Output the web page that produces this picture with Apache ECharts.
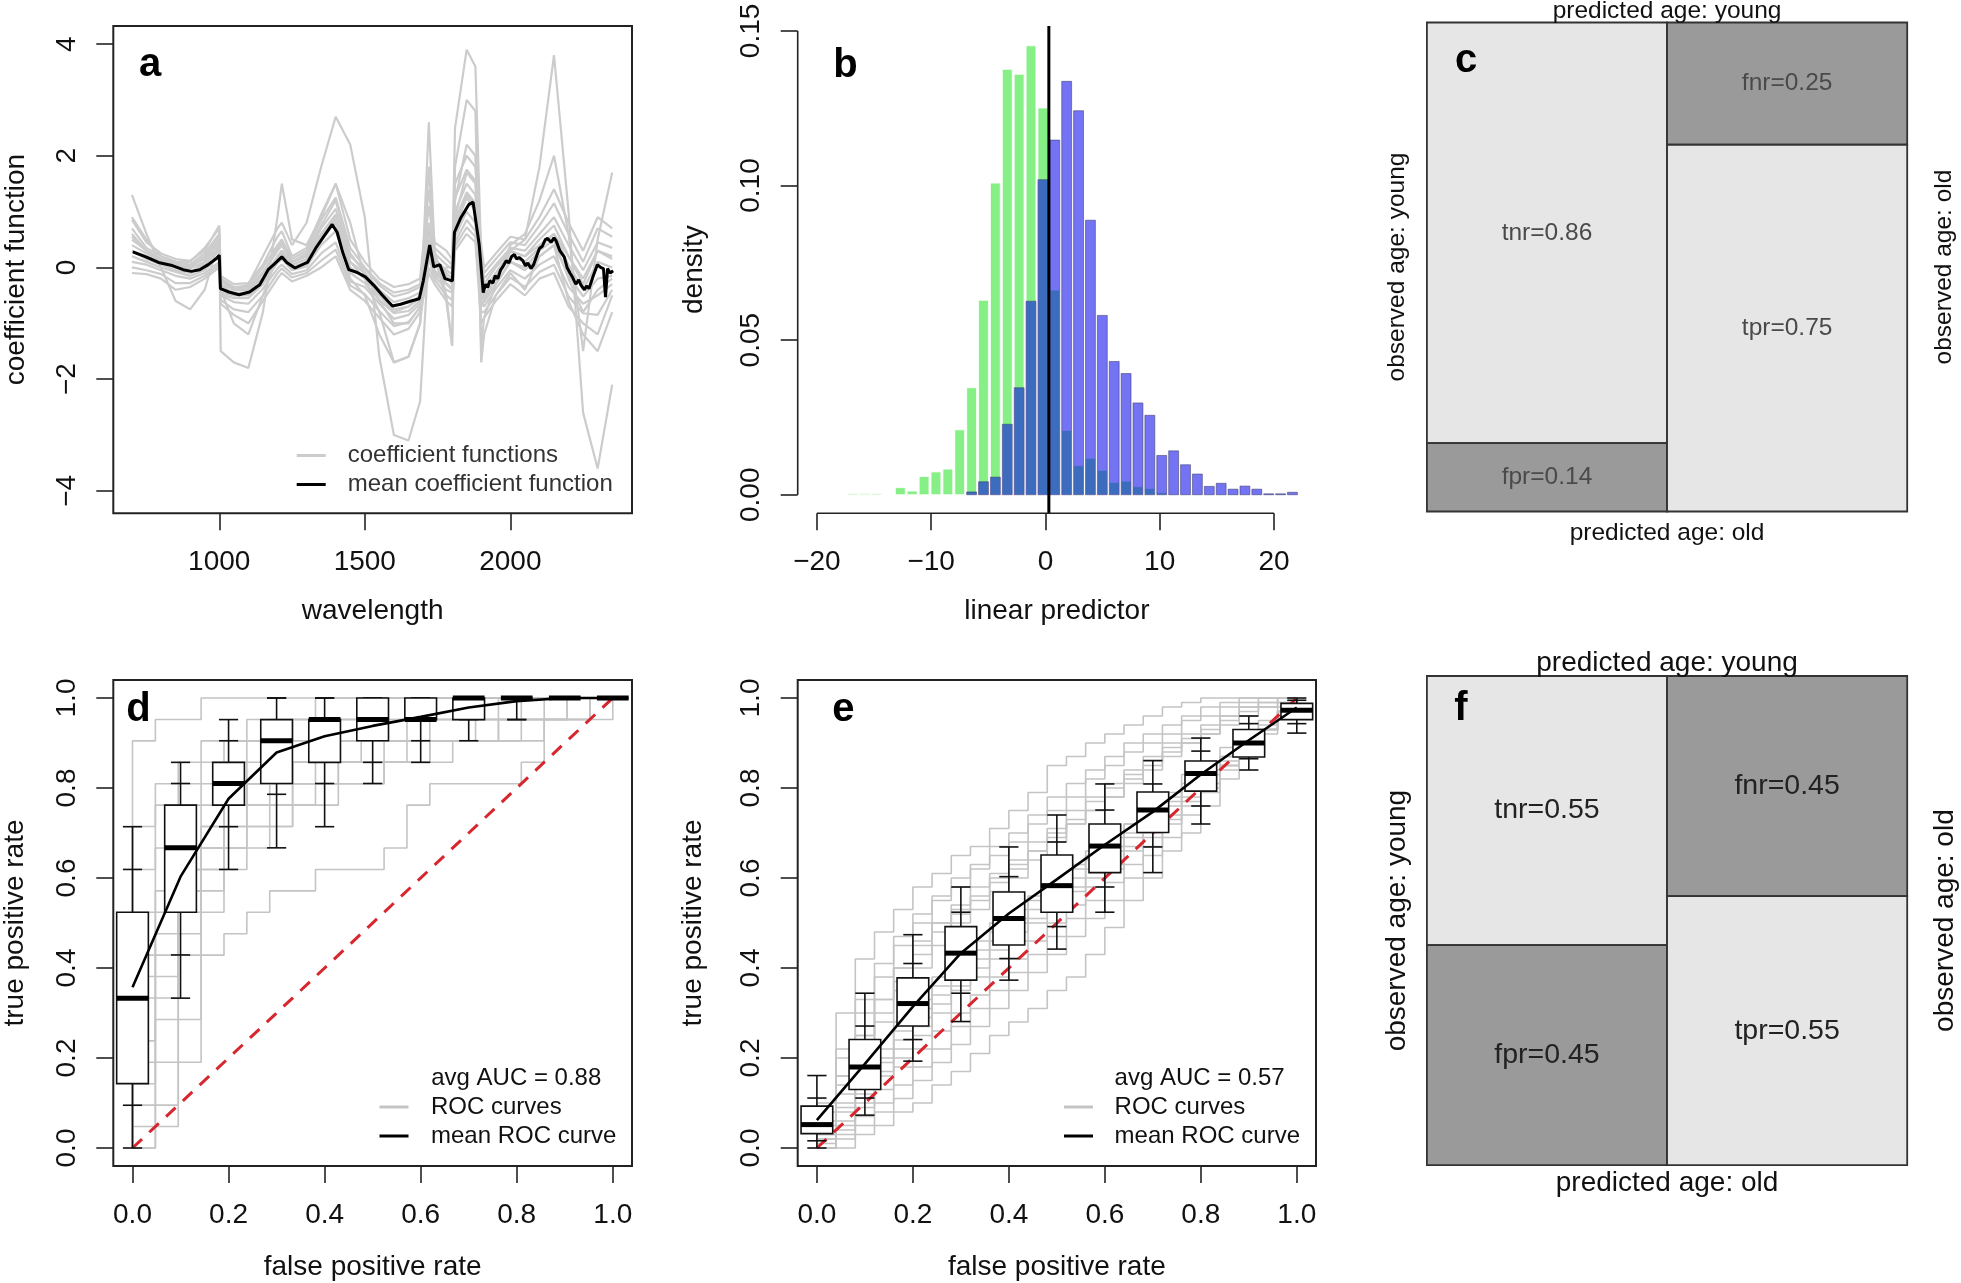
<!DOCTYPE html>
<html>
<head>
<meta charset="utf-8">
<script src="https://cdn.jsdelivr.net/npm/echarts@6.0.0/dist/echarts.min.js"></script>
<style>
html,body{margin:0;padding:0;background:#ffffff;}
#chart{width:1961px;height:1283px;}
</style>
</head>
<body>
<div id="chart"></div>
<script>
// ================= DATA =================
// ---- (a) coefficient functions ----
const wlMean = [703,748,791,834,876,905,933,962,990,1000,1004,1033,1068,1104,1139,1168,1189,1215,1232,1260,1303,1331,1360,1388,1405,1424,1445,1474,1502,1531,1559,1595,1623,1659,1687,1701,1723,1737,1758,1775,1801,1808,1829,1858,1872,1893,1907,1915,1922,1929,1940,1948,1957,1966,1975,1986,1995,2005,2014,2022,2030,2043,2052,2060,2071,2080,2090,2100,2110,2120,2128,2140,2150,2157,2170,2185,2195,2205,2213,2225,2235,2242,2255,2262,2270,2285,2299,2310,2320,2327,2334,2343,2353];
const coefMean = [0.28,0.19,0.09,0.04,-0.04,-0.07,-0.04,0.05,0.16,0.22,-0.38,-0.44,-0.49,-0.44,-0.31,-0.04,0.06,0.19,0.09,-0.01,0.09,0.34,0.56,0.77,0.63,0.27,-0.04,-0.09,-0.17,-0.32,-0.49,-0.69,-0.66,-0.6,-0.56,-0.24,0.4,0.01,0.05,-0.2,-0.24,0.63,0.88,1.13,1.17,0.41,-0.45,-0.3,-0.36,-0.24,-0.28,-0.15,-0.2,-0.05,0.02,0.12,0.08,0.2,0.23,0.15,0.18,0.12,0.03,0.08,-0.02,0.05,0.2,0.34,0.38,0.5,0.52,0.45,0.53,0.48,0.3,0.19,0.0,-0.1,-0.17,-0.3,-0.22,-0.31,-0.4,-0.33,-0.38,-0.15,0.05,0.0,-0.02,-0.53,-0.02,-0.1,-0.06];
const wlGrid = [700,750,800,850,900,950,1000,1005,1050,1100,1150,1200,1215,1250,1300,1350,1400,1450,1500,1550,1600,1650,1690,1720,1740,1780,1800,1810,1850,1880,1900,1910,1950,2000,2050,2100,2150,2200,2250,2300,2350];
const coefCurve1 = [0.85,0.45,0.25,0.15,0.12,0.3,0.75,-0.15,-0.3,-0.28,0.05,0.55,0.65,0.2,0.35,0.95,1.5,0.5,0.1,-0.2,-0.35,-0.3,-0.2,1.4,0.45,0.3,0.15,1.5,2.0,1.8,0.4,0.0,0.25,0.55,0.5,0.9,1.4,0.8,0.3,0.9,0.7];
const coefCurve2 = [-0.1,-0.12,-0.2,-0.4,-0.35,-0.2,0.0,-0.65,-0.85,-1.0,-0.6,-0.2,-0.1,-0.25,-0.15,0.0,0.2,-0.4,-0.6,-0.9,-1.2,-1.1,-0.8,-0.1,-0.3,-0.6,-0.7,0.3,0.6,0.45,-1.0,-0.9,-0.6,-0.3,-0.5,-0.2,-0.1,-0.7,-1.0,-1.2,-0.5];
const coefCurve3 = [0.5,0.3,0.15,0.08,0.03,0.15,0.45,-0.25,-0.38,-0.36,-0.08,0.3,0.4,0.1,0.2,0.7,1.05,0.2,-0.03,-0.32,-0.52,-0.45,-0.35,0.8,0.25,0.05,-0.02,1.0,1.5,1.3,0.05,-0.2,0.05,0.35,0.3,0.6,0.9,0.4,-0.05,0.45,0.35];
const coefCurve4 = [0.1,0.05,-0.05,-0.15,-0.2,-0.1,0.1,-0.5,-0.62,-0.65,-0.38,-0.02,0.05,-0.12,-0.05,0.25,0.45,-0.25,-0.35,-0.65,-0.92,-0.85,-0.65,0.15,-0.15,-0.4,-0.45,0.45,0.85,0.65,-0.6,-0.7,-0.38,-0.05,-0.2,0.05,0.2,-0.35,-0.65,-0.5,-0.3];
const coefCurve5 = [0.9,0.5,0.2,0.1,0.1,0.35,0.7,-0.2,-0.4,-0.3,0.2,0.7,0.8,0.4,0.8,1.8,2.7,2.2,0.9,-1.6,-3.0,-3.1,-2.4,0.3,-0.2,0.0,0.0,2.5,3.9,3.6,0.2,-0.3,0.0,0.3,0.2,0.4,0.6,0.2,-0.3,0.3,0.2];
const coefCurve6 = [0.6,0.3,0.1,0.0,0.0,0.2,0.5,-0.3,-0.4,-0.4,-0.1,0.3,0.4,0.1,0.2,0.6,0.9,0.1,-0.2,-0.5,-0.8,-0.7,-0.5,0.5,0.1,-0.1,-0.2,0.8,1.3,1.1,-0.4,-0.5,-0.2,0.3,0.5,1.8,3.8,1.0,-2.6,-3.6,-2.1];
const coefCurve7 = [1.3,0.6,0.0,-0.6,-0.75,-0.4,0.5,-1.5,-1.7,-1.8,-0.8,0.9,1.5,0.5,0.4,0.9,1.5,0.8,-0.2,-0.8,-1.7,-1.6,-1.0,2.6,0.3,-0.5,-1.4,1.8,3.0,2.8,-1.7,-1.2,-0.5,-0.1,-0.4,0.2,0.4,-0.6,-1.2,-1.5,-0.8];
const coefCurve8 = [0.3,0.2,0.1,0.0,-0.1,0.05,0.3,-0.45,-0.5,-0.5,-0.25,0.15,0.25,0.0,0.1,0.55,0.85,0.0,-0.2,-0.5,-0.75,-0.7,-0.55,0.5,0.05,-0.15,-0.3,0.7,1.25,1.0,-0.35,-0.55,-0.2,0.2,0.1,0.35,0.6,0.05,-0.4,0.1,0.0];
const coefCurve9 = [0.7,0.35,0.2,0.1,0.05,0.25,0.6,-0.2,-0.35,-0.33,0.0,0.4,0.5,0.15,0.3,0.85,1.25,0.35,0.0,-0.28,-0.45,-0.4,-0.3,1.1,0.35,0.15,0.05,1.25,1.75,1.55,0.2,-0.1,0.15,0.45,0.4,0.75,1.15,0.6,0.1,0.7,0.55];
const coefCurve10 = [0.0,-0.05,-0.12,-0.28,-0.28,-0.15,0.05,-0.58,-0.75,-0.8,-0.5,-0.1,-0.02,-0.18,-0.1,0.12,0.32,-0.32,-0.48,-0.78,-1.05,-0.98,-0.72,0.0,-0.22,-0.5,-0.58,0.38,0.72,0.55,-0.8,-0.8,-0.5,-0.18,-0.35,-0.08,0.05,-0.52,-0.82,-0.85,-0.4];
const coefCurve11 = [0.4,0.25,0.12,0.05,-0.02,0.1,0.35,-0.35,-0.45,-0.45,-0.18,0.2,0.3,0.05,0.15,0.6,0.95,0.1,-0.1,-0.4,-0.62,-0.55,-0.45,0.65,0.15,-0.05,-0.12,0.85,1.35,1.15,-0.15,-0.38,-0.1,0.28,0.2,0.5,0.75,0.2,-0.2,0.3,0.15];
const coefCurve12 = [0.2,0.1,0.0,-0.08,-0.15,-0.05,0.2,-0.48,-0.55,-0.55,-0.3,0.08,0.15,-0.05,0.02,0.4,0.65,-0.1,-0.28,-0.58,-0.82,-0.78,-0.6,0.3,-0.05,-0.28,-0.38,0.55,1.0,0.8,-0.48,-0.62,-0.3,0.1,-0.05,0.2,0.4,-0.15,-0.52,-0.2,-0.15];
const coefCurve13 = [0.55,0.3,0.15,0.05,0.0,0.2,0.55,-0.3,-0.5,-0.45,-0.1,0.35,0.45,0.1,0.25,0.75,1.2,0.25,-0.1,-0.6,-1.0,-1.0,-0.7,1.8,0.2,-0.6,-1.4,1.2,2.2,2.0,-1.4,-0.9,-0.3,0.4,0.6,1.2,2.0,0.6,-1.5,0.5,1.7];
const coefCurve14 = [0.3,0.15,0.05,-0.05,-0.1,0.1,0.45,-0.4,-1.0,-1.2,-0.5,0.2,0.3,0.0,0.1,0.5,0.8,-0.2,-0.5,-1.2,-1.7,-1.6,-1.0,0.3,-0.1,-0.3,-0.4,0.9,1.7,1.5,-0.7,-0.6,-0.3,0.1,0.0,0.3,0.5,-0.2,-0.8,-0.4,-0.2];
const aXTicks = [1000,1500,2000];
const aYTicks = [-4,-2,0,2,4];

// ---- (b) histogram of linear predictor ----
const histEdges = [-18.42,-17.38,-16.34,-15.30,-14.26,-13.22,-12.18,-11.14,-10.10,-9.06,-8.02,-6.98,-5.94,-4.90,-3.86,-2.82,-1.78,-0.74,0.30,1.34,2.38,3.42,4.46,5.50,6.54,7.58,8.62,9.66,10.70,11.74,12.78,13.82,14.86,15.90,16.94,17.98,19.02,20.06,21.10,22.14];
const densYoung = [0,0.0004,0.0004,0.0004,0,0.0023,0.0012,0.0059,0.0074,0.0083,0.0210,0.0346,0.0629,0.1008,0.1376,0.1360,0.1452,0.1251,0.0662,0.0208,0.0094,0.0118,0.0079,0.0040,0.0044,0.0026,0.0020,0.0007,0,0,0,0,0,0,0,0,0,0,0];
const densOld = [0,0,0,0,0,0,0,0,0,0,0,0.0009,0.0042,0.0057,0.0228,0.0346,0.0626,0.1019,0.1147,0.1337,0.1242,0.0888,0.0580,0.0431,0.0392,0.0297,0.0257,0.0127,0.0142,0.0097,0.0067,0.0027,0.0037,0.0018,0.0028,0.0018,0.0003,0.0003,0.0008];
const cutoff = [0.3];
const bXTicks = [-20,-10,0,10,20];
const bYTicks = [0,0.05,0.10,0.15];

// ---- (c),(f) confusion mosaics ----
const cellNames = ['tnr','fpr','fnr','tpr'];
const ratesC = [0.86,0.14,0.25,0.75];
const ratesF = [0.55,0.45,0.45,0.55];
const colSplitC = [0.5];
const colSplitF = [0.5];

// ---- (d) ROC, 21 negatives / 21 positives ----
const fprCountsD = [0,1,2,3,4,5,6,7,8,9,10,11,12,13,14,15,16,17,18,19,20,21];
const rocD1 = [19,20,20,21,21,21,21,21,21,21,21,21,21,21,21,21,21,21,21,21,21,21];
const rocD2 = [0,1,4,9,10,11,12,12,13,13,13,14,16,17,17,17,17,18,20,20,20,21];
const rocD3 = [7,11,13,15,16,17,18,18,19,19,19,20,20,20,20,20,21,21,21,21,21,21];
const rocD4 = [3,8,12,15,17,18,19,19,19,20,20,20,20,21,21,21,21,21,21,21,21,21];
const rocD5 = [11,14,16,17,18,19,19,20,20,20,20,21,21,21,21,21,21,21,21,21,21,21];
const rocD6 = [5,9,12,13,14,15,15,16,16,17,17,18,18,18,19,19,19,20,20,21,21,21];
const rocD7 = [1,4,10,14,16,17,17,18,18,18,19,19,19,20,20,20,20,20,21,21,21,21];
const rocD8 = [15,17,18,19,19,20,20,20,21,21,21,21,21,21,21,21,21,21,21,21,21,21];
const rocD9 = [9,12,14,16,16,17,17,18,18,18,18,19,19,19,19,19,19,19,20,20,21,21];
const rocD10 = [0,2,6,11,13,14,15,16,17,17,17,18,18,19,19,20,20,20,20,20,21,21];
const rocD11 = [13,16,17,18,19,19,20,20,20,20,21,21,21,21,21,21,21,21,21,21,21,21];
const rocD12 = [2,6,9,12,14,15,16,17,17,18,18,18,19,19,19,19,20,20,20,21,21,21];
const rocD13 = [8,10,13,14,15,16,17,17,17,18,18,18,18,19,19,19,20,20,20,20,21,21];
const rocD14 = [4,7,11,13,15,16,16,17,18,19,19,19,20,20,20,20,20,21,21,21,21,21];
const boxX = [0,0.1,0.2,0.3,0.4,0.5,0.6,0.7,0.8,0.9,1.0];
const boxMinD = [0.0,0.333,0.619,0.667,0.714,0.810,0.857,0.905,0.952,1,1];
const boxLoD  = [0.095,0.429,0.714,0.786,0.810,0.857,0.905,0.952,0.952,1,1];
const boxQ1D  = [0.143,0.524,0.762,0.810,0.857,0.905,0.952,0.952,1,1,1];
const boxMedD = [0.333,0.667,0.810,0.905,0.952,0.952,0.952,1,1,1,1];
const boxQ3D  = [0.524,0.762,0.857,0.952,0.952,1,1,1,1,1,1];
const boxHiD  = [0.619,0.810,0.905,1,1,1,1,1,1,1,1];
const boxMaxD = [0.714,0.857,0.952,1,1,1,1,1,1,1,1];
const meanRocD = [0.357,0.603,0.776,0.879,0.915,0.938,0.958,0.979,0.993,1.0,1.0];

// ---- (e) ROC ----
const fprGridE = [0,0.04,0.08,0.12,0.16,0.2,0.24,0.28,0.32,0.36,0.4,0.44,0.48,0.52,0.56,0.6,0.64,0.68,0.72,0.76,0.8,0.84,0.88,0.92,0.96,1.0];
const rocE1 = [0.1,0.3,0.42,0.48,0.53,0.58,0.61,0.65,0.67,0.71,0.75,0.79,0.85,0.87,0.9,0.92,0.94,0.96,0.98,0.99,1,1,1,1,1,1];
const rocE2 = [0.05,0.2,0.3,0.38,0.45,0.5,0.55,0.58,0.62,0.65,0.68,0.72,0.75,0.78,0.82,0.85,0.88,0.9,0.92,0.95,0.96,0.98,0.99,1,1,1];
const rocE3 = [0.03,0.12,0.2,0.28,0.35,0.4,0.45,0.5,0.53,0.57,0.6,0.64,0.68,0.72,0.75,0.78,0.82,0.85,0.88,0.9,0.92,0.95,0.97,0.98,0.99,1];
const rocE4 = [0.02,0.1,0.16,0.22,0.28,0.33,0.38,0.42,0.46,0.5,0.53,0.56,0.6,0.63,0.66,0.7,0.72,0.75,0.78,0.81,0.84,0.87,0.9,0.93,0.96,1];
const rocE5 = [0,0.06,0.1,0.16,0.2,0.25,0.3,0.35,0.38,0.42,0.46,0.5,0.53,0.57,0.6,0.63,0.67,0.7,0.74,0.78,0.81,0.85,0.88,0.92,0.96,1];
const rocE6 = [0,0.03,0.07,0.1,0.14,0.18,0.22,0.27,0.31,0.35,0.39,0.43,0.47,0.51,0.55,0.59,0.63,0.67,0.72,0.76,0.8,0.85,0.89,0.93,0.97,1];
const rocE7 = [0,0,0.03,0.05,0.08,0.1,0.14,0.17,0.21,0.25,0.28,0.31,0.35,0.38,0.43,0.49,0.55,0.6,0.66,0.7,0.76,0.82,0.87,0.93,0.97,1];
const rocE8 = [0.06,0.16,0.25,0.33,0.4,0.46,0.5,0.53,0.56,0.6,0.63,0.66,0.69,0.72,0.75,0.78,0.81,0.84,0.87,0.9,0.92,0.94,0.96,0.98,0.99,1];
const rocE9 = [0.04,0.16,0.25,0.33,0.4,0.45,0.5,0.54,0.58,0.61,0.64,0.68,0.71,0.75,0.78,0.81,0.84,0.87,0.9,0.92,0.94,0.96,0.98,0.99,1,1];
const rocE10 = [0.01,0.08,0.14,0.19,0.24,0.29,0.34,0.38,0.42,0.46,0.5,0.53,0.57,0.6,0.64,0.67,0.7,0.74,0.77,0.8,0.83,0.86,0.9,0.93,0.97,1];
const rocE11 = [0,0.04,0.09,0.13,0.18,0.22,0.26,0.3,0.34,0.38,0.42,0.46,0.5,0.54,0.58,0.62,0.66,0.69,0.73,0.77,0.81,0.85,0.89,0.93,0.97,1];
const rocE12 = [0.03,0.14,0.22,0.3,0.37,0.43,0.48,0.52,0.55,0.59,0.62,0.66,0.7,0.73,0.77,0.8,0.83,0.86,0.89,0.91,0.93,0.96,0.98,0.99,1,1];
const rocE13 = [0,0.02,0.05,0.08,0.11,0.15,0.19,0.23,0.27,0.31,0.35,0.39,0.43,0.47,0.51,0.55,0.6,0.65,0.69,0.74,0.79,0.84,0.88,0.93,0.97,1];
const rocE14 = [0.02,0.09,0.15,0.2,0.26,0.31,0.36,0.4,0.44,0.48,0.51,0.55,0.58,0.62,0.65,0.69,0.72,0.76,0.79,0.83,0.86,0.89,0.92,0.95,0.98,1];
const rocE15 = [0.08,0.22,0.33,0.41,0.47,0.52,0.56,0.6,0.63,0.67,0.7,0.74,0.78,0.81,0.84,0.87,0.9,0.92,0.94,0.96,0.98,0.99,1,1,1,1];
const rocE16 = [0,0.05,0.12,0.17,0.22,0.27,0.32,0.36,0.4,0.44,0.48,0.51,0.55,0.58,0.62,0.66,0.69,0.73,0.76,0.8,0.84,0.87,0.91,0.94,0.97,1];
const boxMinE = [0.0,0.073,0.193,0.281,0.373,0.442,0.524,0.612,0.72,0.84,0.922];
const boxLoE  = [0.016,0.111,0.241,0.344,0.421,0.492,0.58,0.669,0.76,0.865,0.943];
const boxQ1E  = [0.032,0.130,0.271,0.373,0.451,0.524,0.612,0.701,0.793,0.869,0.952];
const boxMedE = [0.052,0.180,0.321,0.433,0.51,0.583,0.671,0.751,0.832,0.9,0.973];
const boxQ3E  = [0.093,0.241,0.378,0.492,0.569,0.651,0.72,0.791,0.86,0.93,0.988];
const boxHiE  = [0.111,0.271,0.41,0.524,0.603,0.68,0.751,0.809,0.882,0.943,0.995];
const boxMaxE = [0.161,0.344,0.474,0.58,0.669,0.74,0.809,0.861,0.911,0.96,1.0];
const meanRocE = [0.062,0.187,0.314,0.433,0.521,0.597,0.674,0.747,0.83,0.906,0.979];
const rocTicks = [0,0.2,0.4,0.6,0.8,1.0];
const aucLabels = ['avg AUC = 0.88','avg AUC = 0.57'];

// ================= LAYOUT / STYLE =================
const FONT = '"Liberation Sans", Arial, Helvetica, sans-serif';
const TXT = '#111';
const aX = [636, 2418], aY = [-4.403, 4.324];
const bX = [-21.68, 23.68], bY = [-0.006, 0.1516];
const rX = [-0.04, 1.04];
const minusFmt = v => (v < 0 ? '\u2212' + Math.abs(v) : String(v));

const chart = echarts.init(document.getElementById('chart'), null, {renderer: 'canvas'});

function grid(left, top, width, height, box) {
  return {left, top, width, height, show: !!box, borderColor: '#222', borderWidth: 2,
          backgroundColor: 'transparent', containLabel: false, outerBoundsMode: 'none'};
}
function valAxis(o) {
  return {
    type: 'value', gridIndex: o.grid, min: o.range[0], max: o.range[1], z: o.z || 0,
    position: o.position, splitLine: {show: false},
    axisLine: {show: false, onZero: false},
    axisTick: o.ticks ? {show: true, inside: false, length: 17, customValues: o.ticks,
                         lineStyle: {color: '#222', width: 1.6}} : {show: false},
    axisLabel: o.ticks ? {show: true, customValues: o.ticks, formatter: o.fmt, margin: o.margin,
                          rotate: o.rotate || 0, fontSize: 28, color: TXT, fontFamily: FONT} : {show: false},
    name: o.name, nameLocation: 'middle', nameGap: o.nameGap, nameMoveOverlap: false,
    nameTextStyle: {fontSize: o.nameSize || 28, color: TXT, fontFamily: FONT}
  };
}

const xAxes = [
  valAxis({grid:0, range:aX, position:'bottom', ticks:aXTicks, fmt:minusFmt, margin:35, name:'wavelength', nameGap:83.5}),
  valAxis({grid:1, range:bX, position:'bottom', ticks:bXTicks, fmt:minusFmt, margin:35, name:'linear predictor', nameGap:83.5}),
  valAxis({grid:2, range:[0,1], position:'bottom', name:'predicted age: old', nameGap:9.5, nameSize:24.5, z:10}),
  valAxis({grid:2, range:[0,1], position:'top', name:'predicted age: young', nameGap:-1, nameSize:24.5, z:10}),
  valAxis({grid:3, range:rX, position:'bottom', ticks:rocTicks, fmt:v=>v.toFixed(1), margin:35, name:'false positive rate', nameGap:87.5}),
  valAxis({grid:4, range:rX, position:'bottom', ticks:rocTicks, fmt:v=>v.toFixed(1), margin:35, name:'false positive rate', nameGap:87.5}),
  valAxis({grid:5, range:[0,1], position:'bottom', name:'predicted age: old', nameGap:4, nameSize:28, z:10}),
  valAxis({grid:5, range:[0,1], position:'top', name:'predicted age: young', nameGap:-1, nameSize:28, z:10})
];
const yAxes = [
  valAxis({grid:0, range:aY, position:'left', ticks:aYTicks, fmt:minusFmt, margin:32, rotate:90, name:'coefficient function', nameGap:83}),
  valAxis({grid:1, range:bY, position:'left', ticks:bYTicks, fmt:v=>v.toFixed(2), margin:32, rotate:90, name:'density', nameGap:89}),
  valAxis({grid:2, range:[0,1], position:'left', name:'observed age: young', nameGap:17, nameSize:24.5, z:10}),
  valAxis({grid:2, range:[0,1], position:'right', name:'observed age: old', nameGap:25, nameSize:24.5, z:10}),
  valAxis({grid:3, range:rX, position:'left', ticks:rocTicks, fmt:v=>v.toFixed(1), margin:32, rotate:90, name:'true positive rate', nameGap:84}),
  valAxis({grid:4, range:rX, position:'left', ticks:rocTicks, fmt:v=>v.toFixed(1), margin:32, rotate:90, name:'true positive rate', nameGap:90}),
  valAxis({grid:5, range:[0,1], position:'left', name:'observed age: young', nameGap:16, nameSize:28, z:10}),
  valAxis({grid:5, range:[0,1], position:'right', name:'observed age: old', nameGap:24, nameSize:28, z:10})
];

const series = [];
const base = {silent: true, animation: false};

// ---- (a) ----
[coefCurve1,coefCurve2,coefCurve3,coefCurve4,coefCurve5,coefCurve6,coefCurve7,
 coefCurve8,coefCurve9,coefCurve10,coefCurve11,coefCurve12,coefCurve13,coefCurve14].forEach(cv => {
  series.push(Object.assign({type:'line', name:'coefficient functions', xAxisIndex:0, yAxisIndex:0,
    data: wlGrid.map((w, j) => [w, cv[j]]), symbol:'none', showSymbol:false, color:'#cccccc',
    lineStyle:{color:'#cccccc', width:2.2}, z:2, clip:true}, base));
});
series.push(Object.assign({type:'line', name:'mean coefficient function', xAxisIndex:0, yAxisIndex:0,
  data: wlMean.map((w, i) => [w, coefMean[i]]), symbol:'none', showSymbol:false, color:'#000',
  lineStyle:{color:'#000', width:3}, z:3}, base));

// ---- (b) ----
function histSeries(dens, fill, stroke, z) {
  return Object.assign({type:'custom', xAxisIndex:1, yAxisIndex:1, z,
    data: dens.map((d, i) => [histEdges[i], histEdges[i+1], d]).filter(r => r[2] > 0),
    renderItem: (params, api) => {
      const p0 = api.coord([api.value(0), 0]);
      const p1 = api.coord([api.value(1), api.value(2)]);
      return {type:'rect', shape:{x:p0[0]+1, y:p1[1], width:p1[0]-p0[0]-2, height:Math.max(p0[1]-p1[1], 0.9)},
              style:{fill, stroke, lineWidth:1}};
    }}, base);
}
series.push(histSeries(densYoung, '#86f086', 'rgba(255,255,255,0.8)', 2));
series.push(histSeries(densOld, 'rgba(0,0,235,0.55)', 'rgba(60,60,110,0.55)', 3));
series.push(Object.assign({type:'line', xAxisIndex:1, yAxisIndex:1, data:[[cutoff[0], bY[0]],[cutoff[0], bY[1]]],
  symbol:'none', lineStyle:{color:'#000', width:3}, z:4, clip:false}, base));
series.push(Object.assign({type:'line', xAxisIndex:1, yAxisIndex:1,
  data:[[bXTicks[0], bY[0]],[bXTicks[bXTicks.length-1], bY[0]]], symbol:'none', lineStyle:{color:'#222', width:1.6}, z:4, clip:false}, base));
series.push(Object.assign({type:'line', xAxisIndex:1, yAxisIndex:1,
  data:[[bX[0], bYTicks[0]],[bX[0], bYTicks[bYTicks.length-1]]], symbol:'none', lineStyle:{color:'#222', width:1.6}, z:4, clip:false}, base));

// ---- (c),(f) mosaics ----
function mosaicSeries(rates, split, xi, yi, fontSize, textColor) {
  const cells = [
    [0, split, rates[1], 1, 0],
    [0, split, 0, rates[1], 1],
    [split, 1, rates[3], 1, 1],
    [split, 1, 0, rates[3], 0]
  ];
  return Object.assign({type:'custom', xAxisIndex:xi, yAxisIndex:yi, z:2, data: cells,
    renderItem: (params, api) => {
      const p0 = api.coord([api.value(0), api.value(3)]);
      const p1 = api.coord([api.value(1), api.value(2)]);
      const i = params.dataIndex;
      return {type:'group', children:[
        {type:'rect', shape:{x:p0[0], y:p0[1], width:p1[0]-p0[0], height:p1[1]-p0[1]},
         style:{fill: api.value(4) ? '#9a9a9a' : '#e6e6e6', stroke:'#333', lineWidth:1.8}},
        {type:'text', x:(p0[0]+p1[0])/2, y:(p0[1]+p1[1])/2,
         style:{text: cellNames[i] + '=' + rates[i].toFixed(2), fontSize, fontFamily:FONT, fill:textColor,
                textAlign:'center', textVerticalAlign:'middle', verticalAlign:'middle'}}
      ]};
    }}, base);
}
series.push(mosaicSeries(ratesC, colSplitC[0], 2, 2, 24.5, '#4a4a4a'));
series.push(mosaicSeries(ratesF, colSplitF[0], 6, 6, 28.5, '#222'));

// ---- (d),(e) ROC ----
function stepLine(points, xi, yi, name) {
  return Object.assign({type:'line', name, xAxisIndex:xi, yAxisIndex:yi, data: points, step:'end',
    symbol:'none', showSymbol:false, color:'#c4c4c4', lineStyle:{color:'#c4c4c4', width:1.6}, z:2}, base);
}
[rocD1,rocD2,rocD3,rocD4,rocD5,rocD6,rocD7,rocD8,rocD9,rocD10,rocD11,rocD12,rocD13,rocD14].forEach(cv => {
  const pts = [[0,0]].concat(fprCountsD.map((k, j) => [k/21, cv[j]/21]));
  series.push(stepLine(pts, 4, 4, 'ROC curves'));
});
[rocE1,rocE2,rocE3,rocE4,rocE5,rocE6,rocE7,rocE8,rocE9,rocE10,rocE11,rocE12,rocE13,rocE14,rocE15,rocE16].forEach(cv => {
  const pts = [[0,0]].concat(fprGridE.map((x, j) => [x, cv[j]]));
  series.push(stepLine(pts, 5, 5, 'ROC curves'));
});
function chance(xi, yi) {
  return Object.assign({type:'line', xAxisIndex:xi, yAxisIndex:yi, data:[[0,0],[1,1]], symbol:'none',
    lineStyle:{color:'#d8262f', width:3, type:[13,10]}, z:3}, base);
}
series.push(chance(4,4));
series.push(chance(5,5));
function boxSeries(mn, lo, q1, md, q3, hi, mx, xi, yi) {
  return Object.assign({type:'custom', xAxisIndex:xi, yAxisIndex:yi, z:4,
    data: boxX.map((x, i) => [x, mn[i], lo[i], q1[i], md[i], q3[i], hi[i], mx[i]]),
    renderItem: (params, api) => {
      const x = api.value(0);
      const px = api.coord([x, 0])[0];
      const y = v => api.coord([x, v])[1];
      const hw = api.size([0.033, 0])[0];
      const sw = api.size([0.02, 0])[0];
      const st = {stroke:'#111', lineWidth:1.6};
      const ch = [{type:'line', shape:{x1:px, y1:y(api.value(1)), x2:px, y2:y(api.value(7))}, style:st}];
      [1,2,6,7].forEach(k => ch.push({type:'line', shape:{x1:px-sw, y1:y(api.value(k)), x2:px+sw, y2:y(api.value(k))}, style:st}));
      ch.push({type:'rect', shape:{x:px-hw, y:y(api.value(5)), width:2*hw, height:y(api.value(3))-y(api.value(5))},
               style:{fill:'#fff', stroke:'#111', lineWidth:1.6}});
      ch.push({type:'line', shape:{x1:px-hw, y1:y(api.value(4)), x2:px+hw, y2:y(api.value(4))}, style:{stroke:'#000', lineWidth:5}});
      return {type:'group', children: ch};
    }}, base);
}
series.push(boxSeries(boxMinD, boxLoD, boxQ1D, boxMedD, boxQ3D, boxHiD, boxMaxD, 4, 4));
series.push(boxSeries(boxMinE, boxLoE, boxQ1E, boxMedE, boxQ3E, boxHiE, boxMaxE, 5, 5));
series.push(Object.assign({type:'line', name:'mean ROC curve', xAxisIndex:4, yAxisIndex:4,
  data: boxX.map((x, i) => [x, meanRocD[i]]), symbol:'none', showSymbol:false, color:'#000',
  lineStyle:{color:'#000', width:2.6}, z:5}, base));
series.push(Object.assign({type:'line', name:'mean ROC curve', xAxisIndex:5, yAxisIndex:5,
  data: boxX.map((x, i) => [x, meanRocE[i]]), symbol:'none', showSymbol:false, color:'#000',
  lineStyle:{color:'#000', width:2.6}, z:5}, base));

function legend(left, top, names, padLeft, color) {
  return {left, top, orient:'vertical', padding:0, itemGap:5, itemWidth:29, itemHeight:3, icon:'rect',
    selectedMode:false, data:names, textStyle:{fontSize:24, color, fontFamily:FONT, padding:[0,0,0,padLeft]}};
}
function letter(t, x, y) {
  return {type:'text', x, y, z:100, silent:true, style:{text:t, fontSize:40, fontWeight:'bold', fontFamily:FONT, fill:'#000',
    textAlign:'center', textVerticalAlign:'middle', verticalAlign:'middle'}};
}
function note(t, x, y) {
  return {type:'text', x, y, z:100, silent:true, style:{text:t, fontSize:24, fontFamily:FONT, fill:TXT,
    textAlign:'left', textVerticalAlign:'middle', verticalAlign:'middle'}};
}

chart.setOption({
  animation: false,
  backgroundColor: '#ffffff',
  grid: [
    grid(113.3, 26, 518.7, 487.3, true),
    grid(797.7, 26, 518.3, 487.3, false),
    grid(1426.9, 22.5, 480.3, 489, false),
    grid(113.3, 680, 518.7, 486, true),
    grid(797.7, 680, 518.3, 486, true),
    grid(1426.9, 676, 480.3, 489.2, false)
  ],
  xAxis: xAxes,
  yAxis: yAxes,
  legend: [
    legend(296.7, 443.5, ['coefficient functions','mean coefficient function'], 17, '#333'),
    legend(379.5, 1095, ['ROC curves','mean ROC curve'], 17.5, TXT),
    legend(1064, 1095, ['ROC curves','mean ROC curve'], 16.6, TXT)
  ],
  graphic: [
    letter('a', 150, 65.4), letter('b', 845.5, 65.7), letter('c', 1466, 61),
    letter('d', 138.5, 709.8), letter('e', 843.3, 710.4), letter('f', 1461, 709),
    note(aucLabels[0], 431.2, 1078), note(aucLabels[1], 1114.6, 1078)
  ],
  series
});
</script>
</body>
</html>
